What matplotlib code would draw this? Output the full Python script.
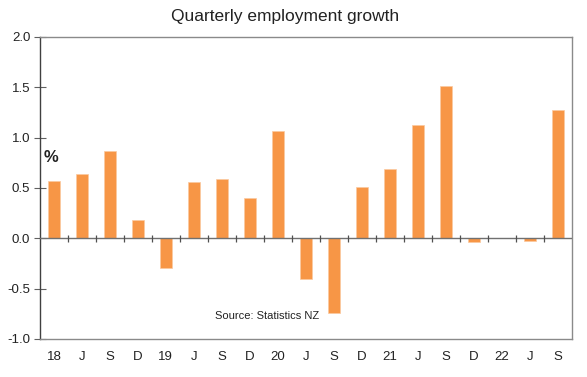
import numpy as np
from matplotlib import pyplot as plt

plt.rcParams['font.family'] = ['Liberation Sans', 'DejaVu Sans']

labels = ["18", "J", "S", "D", "19", "J", "S", "D", "20", "J", "S", "D",
          "21", "J", "S", "D", "22", "J", "S"]
growth = [0.57, 0.64, 0.87, 0.18, -0.30, 0.555, 0.59, 0.40, 1.065, -0.40, -0.74,
          0.51, 0.69, 1.13, 1.51, -0.04, 0.0, -0.03, 1.27]
yticks = [-1.0, -0.5, 0.0, 0.5, 1.0, 1.5, 2.0]

fig = plt.figure(figsize=(5.87, 3.77), dpi=100)
ax = fig.add_axes([0.068, 0.101, 0.906, 0.801])

x = np.arange(len(labels))
ax.bar(x, growth, width=0.42, color="#F79646", edgecolor="#FBC9A0", linewidth=0.5, zorder=2)

ax.set_xlim(-0.5, len(labels) - 0.5)
ax.set_ylim(-1.0, 2.0)

# zero line with small ticks between quarters
ax.axhline(0, color="#707070", linewidth=1.0, zorder=3)
ax.vlines(x[:-1] + 0.5, -0.035, 0.035, color="#505050", linewidth=0.9, zorder=3)

ax.set_yticks(yticks)
ax.set_yticklabels([f"{v:.1f}" for v in yticks])
ax.tick_params(axis="y", direction="inout", length=8, width=0.8, color="#606060",
               labelsize=9.5, pad=3, labelcolor="#222222")
ax.set_xticks(x)
ax.set_xticklabels(labels)
ax.tick_params(axis="x", length=0, labelsize=9.5, pad=9, labelcolor="#222222")

ax.spines["left"].set_color("#404040")
for s in ["top", "right", "bottom"]:
    ax.spines[s].set_color("#8a8a8a")
for s in ax.spines.values():
    s.set_linewidth(1.0)

ax.text(0.007, 0.6, "%", transform=ax.transAxes, fontsize=12, fontweight="bold",
        color="#222222", va="center")
ax.text(0.33, 0.075, "Source: Statistics NZ", transform=ax.transAxes, fontsize=8,
        color="#222222", va="center")

fig.text(0.485, 0.955, "Quarterly employment growth", ha="center", va="center",
         fontsize=12.5, color="#222222")

plt.savefig("out.png", dpi=100)
